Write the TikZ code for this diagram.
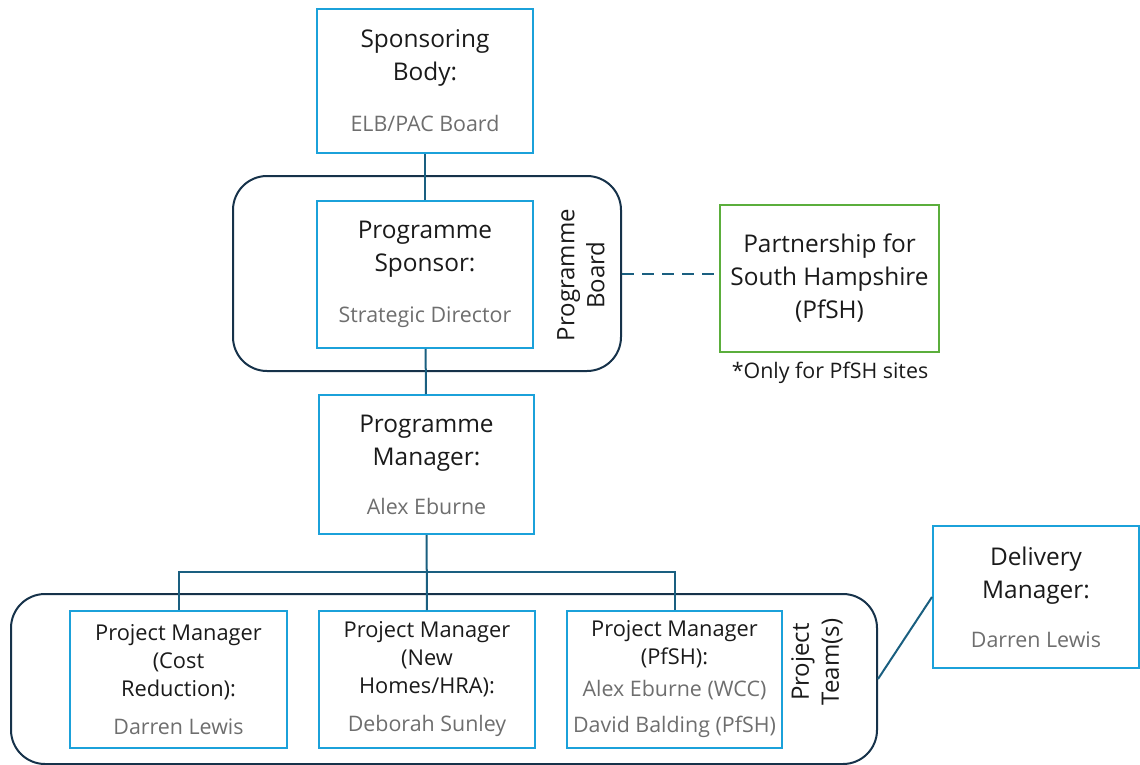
\documentclass[tikz,border=0pt]{standalone}
\usepackage{fontspec}
\setmainfont{Open Sans}
\usepackage{tikz}
\usetikzlibrary{positioning}
\definecolor{roleblue}{HTML}{1BA1DA}
\definecolor{framedark}{HTML}{16324A}
\definecolor{linkteal}{HTML}{1A5F80}
\definecolor{pfshgreen}{HTML}{5BAE3C}
\definecolor{inkdark}{HTML}{1A1A1A}
\definecolor{inkgray}{HTML}{6E6E6E}
\tikzset{role/.style={draw=roleblue, line width=1pt, align=center, inner sep=0pt, text=inkdark, font=\fontsize{12.2}{16.5}\selectfont}}
\tikzset{pm/.style={role, minimum height=68.5pt, font=\fontsize{10.9}{14}\selectfont}}
\tikzset{group/.style={draw=framedark, line width=1pt, rounded corners=17pt, inner sep=0pt}}
\tikzset{link/.style={draw=linkteal, line width=1pt}}
\tikzset{sidelabel/.style={rotate=90, align=center, text=inkdark, font=\fontsize{12}{15}\selectfont}}
\newcommand{\who}[1]{{\color{inkgray}\fontsize{10.7}{12}\selectfont #1}}

\begin{document}
\begin{tikzpicture}[x=0.5pt, y=-0.5pt]
  \useasboundingbox (0,0) rectangle (1140,765);
  % containers
  \node[group, minimum width=194pt, minimum height=97.5pt] (board) at (427,273.5) {};
  \node[group, minimum width=433pt, minimum height=85pt] (team) at (444,679) {};
  \node[sidelabel] (boardlabel) at (581,275) {Programme\\Board};
  \node[sidelabel] (teamlabel) at (817,662) {Project\\Team(s)};
  % top of the chain
  \node[role, minimum width=108pt, minimum height=72pt] (body) at (425,81)
    {Sponsoring\\Body:\\[9pt]\who{ELB/PAC Board}};
  \node[role, minimum width=108pt, minimum height=73.5pt] (sponsor) at (425,274.5)
    {Programme\\Sponsor:\\[9pt]\who{Strategic Director}};
  \node[role, draw=pfshgreen, minimum width=109.5pt, minimum height=73.5pt] (partner) at (829.5,278.5)
    {Partnership for\\South Hampshire\\(PfSH)};
  \node[text=inkdark, font=\fontsize{10.7}{12}\selectfont] (note) at (830,373) {*Only for PfSH sites};
  \node[role, minimum width=107.5pt, minimum height=69.5pt] (manager) at (426.5,464.5)
    {Programme\\Manager:\\[8pt]\who{Alex Eburne}};
  % project managers
  \node[pm, minimum width=108.5pt] (pm1) at (178.5,679.5)
    {Project Manager\\(Cost\\Reduction):\\[5pt]\who{Darren Lewis}};
  \node[pm, minimum width=108pt] (pm2) at (427,679.5)
    {Project Manager\\(New\\Homes/HRA):\\[5pt]\who{Deborah Sunley}};
  \node[pm, minimum width=107.5pt] (pm3) at (674.5,679.5)
    {Project Manager\\(PfSH):\\[2pt]\who{Alex Eburne (WCC)}\\[4pt]\who{David Balding (PfSH)}};
  \node[role, minimum width=103pt, minimum height=71pt] (delivery) at (1036,597)
    {Delivery\\Manager:\\[8pt]\who{Darren Lewis}};
  % connectors
  \coordinate (bus) at (427,572);
  \draw[link] (body) -- (sponsor);
  \draw[link] (sponsor) -- (manager);
  \draw[link] (manager) -- (pm2);
  \draw[link] (pm1.north) -- (pm1.north |- bus) -| (pm3.north);
  \draw[link, dashed, dash pattern=on 6pt off 4pt] (board.east) -- (board.east -| partner.west);
  \draw[link] (team.east) -- (delivery.west);
\end{tikzpicture}
\end{document}
